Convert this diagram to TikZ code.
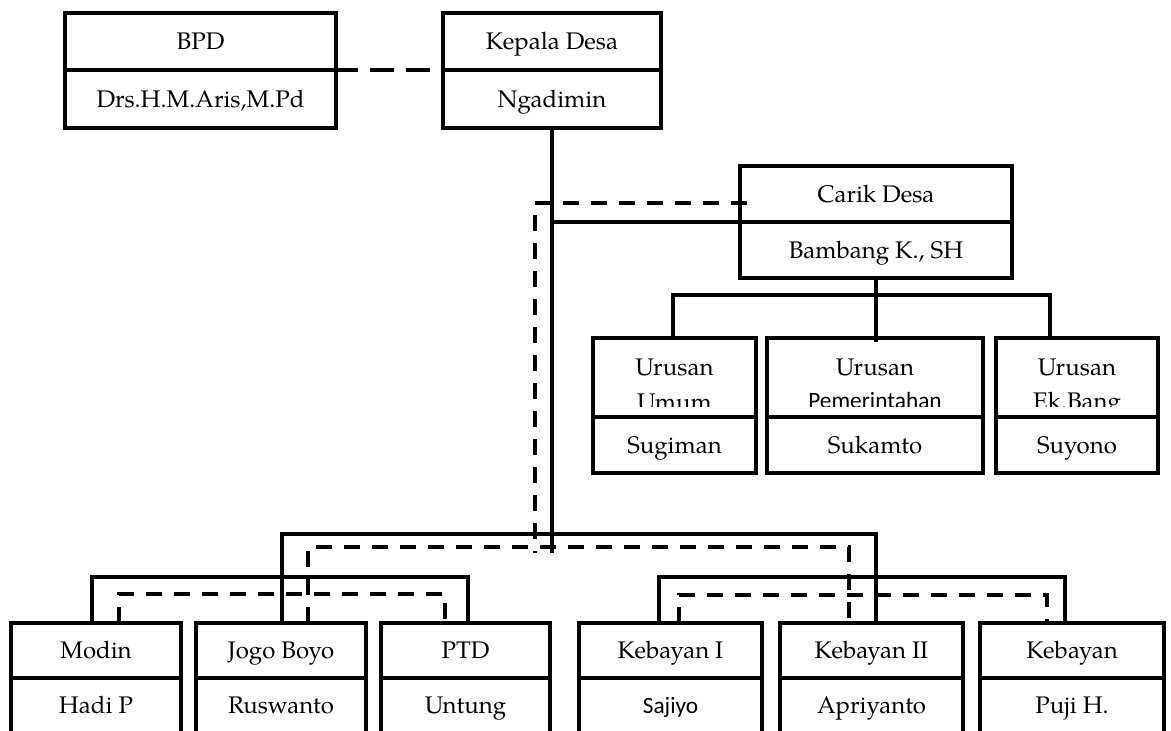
\documentclass[tikz,border=0pt]{standalone}
\usepackage{fontspec}
\setmainfont{texgyrepagella}[Extension=.otf,UprightFont=*-regular,BoldFont=*-bold,ItalicFont=*-italic,BoldItalicFont=*-bolditalic]
\newfontfamily\calib{Carlito}
\usetikzlibrary{calc}
\tikzset{
  bx/.style 2 args={draw,line width=2.5pt,minimum width=#1*0.75pt,minimum height=#2*0.75pt,
    inner sep=0pt,outer sep=0pt,font=\fontsize{18pt}{22pt}\selectfont,text height=12.4pt,text depth=0pt},
  sbx/.style 2 args={bx={#1}{#2},font=\calib\fontsize{17.5pt}{21pt}\selectfont,text height=11.3pt},
  lbl/.style={anchor=base,inner sep=0pt,font=\fontsize{18pt}{22pt}\selectfont},
  slbl/.style={lbl,font=\calib\fontsize{17.5pt}{21pt}\selectfont},
  conn/.style={line width=2.4pt},
  dsh/.style={line width=2.7pt,dash pattern=on 12pt off 9pt},
  dshtop/.style={line width=2.7pt,dash pattern=on 18pt off 9pt,dash phase=7.5pt},
}
\begin{document}
\begin{tikzpicture}[x=0.75pt,y=-0.75pt]
\useasboundingbox (0,0) rectangle (1171,731);
\clip (0,0) rectangle (1171,731);
\fill[white] (0,0) rectangle (1171,731);

% top row
\node[bx={271}{57}] (bpdT) at (200.5,41.5) {BPD};
\node[bx={271}{58}] (bpdB) at (200.5,99) {Drs.H.M.Aris,M.Pd};
\node[bx={218}{57}] (kepT) at (552,41.5) {Kepala Desa};
\node[bx={218}{58}] (kepB) at (552,99) {Ngadimin};

% carik
\node[bx={272}{56}] (carT) at (876,194) {Carik Desa};
\node[bx={272}{56}] (carB) at (876,250) {Bambang K., SH};

% urusan
\node[bx={163}{79}] (umT) at (674.5,377.5) {};
\node[bx={163}{56}] (umB) at (674.5,445) {Sugiman};
\node[bx={216}{79}] (pemT) at (875,377.5) {};
\node[bx={216}{56}] (pemB) at (875,445) {Sukamto};
\node[bx={162}{79}] (ekT) at (1077,377.5) {};
\node[bx={162}{56}] (ekB) at (1077,445) {Suyono};
\begin{scope}
\clip (593,338) rectangle (1158,406);
\node[lbl] (umL1) at (674.5,375) {Urusan};
\node[lbl] (umL2) at (674.5,410) {Umum};
\node[lbl] (pemL1) at (875,375) {Urusan};
\node[slbl] (pemL2) at (875,408) {Pemerintahan};
\node[lbl] (ekL1) at (1077,375) {Urusan};
\node[lbl] (ekL2) at (1077,409.5) {Ek.Bang};
\end{scope}

% bottom row
\node[bx={170}{55}] (modT) at (96,650.5) {Modin};
\node[bx={170}{55}] (modB) at (96,705.5) {Hadi P};
\node[bx={170}{55}] (jogT) at (281,650.5) {Jogo Boyo};
\node[bx={170}{55}] (jogB) at (281,705.5) {Ruswanto};
\node[bx={169}{55}] (ptdT) at (465.5,650.5) {PTD};
\node[bx={169}{55}] (ptdB) at (465.5,705.5) {Untung};
\node[bx={183}{55}] (kb1T) at (670.5,650.5) {Kebayan I};
\node[sbx={183}{55}] (kb1B) at (670.5,705.5) {Sajiyo};
\node[bx={183}{55}] (kb2T) at (871.5,650.5) {Kebayan II};
\node[bx={183}{55}] (kb2B) at (871.5,705.5) {Apriyanto};
\node[bx={184}{55}] (kb3T) at (1072,650.5) {Kebayan};
\node[bx={184}{55}] (kb3B) at (1072,705.5) {Puji H.};

% connectors
\coordinate (kEnd) at (552,553);
\coordinate (dC) at (747,203);
\coordinate (dEnd) at (535,553);
\coordinate (hub1) at (552,534);
\coordinate (hub2) at (535,547);

\draw[dshtop] ($(bpdT.south east)+(-28,0)$) -- (kepT.south west);
\draw[conn] (kepB.south) -- (kEnd);
\draw[conn] (kepB.south |- carT.south west) -- (carT.south west);
\draw[dsh] (dC) -| (dEnd);

\draw[conn] (carB.south) -- ($(pemT.north)+(1,4)$);
\draw[conn] ($(umT.north)+(-1.5,0)$) |- ($(ekT.north)+(-27,-43)$) -- ($(ekT.north)+(-27,0)$);

\draw[conn] ($(jogT.north)+(1,0)$) |- (hub1) -| ($(kb2T.north)+(4.5,0)$);
\draw[dsh] ($(jogT.north)+(27,0)$) |- (hub2) -| ($(kb2T.north)+(-22.5,0)$);

\draw[conn] ($(modT.north)+(-4,0)$) |- ($(ptdT.north)+(2.5,-46)$) -- ($(ptdT.north)+(2.5,0)$);
\draw[dsh] ($(modT.north)+(23,0)$) |- ($(ptdT.north)+(-20.5,-29)$) -- ($(ptdT.north)+(-20.5,0)$);

\draw[conn] ($(kb1T.north)+(-11.5,0)$) |- ($(kb3T.north)+(-7,-46)$) -- ($(kb3T.north)+(-7,0)$);
\draw[dsh] ($(kb1T.north)+(8.5,0)$) |- ($(kb3T.north)+(-25,-28)$) -- ($(kb3T.north)+(-25,0)$);
\end{tikzpicture}
\end{document}
